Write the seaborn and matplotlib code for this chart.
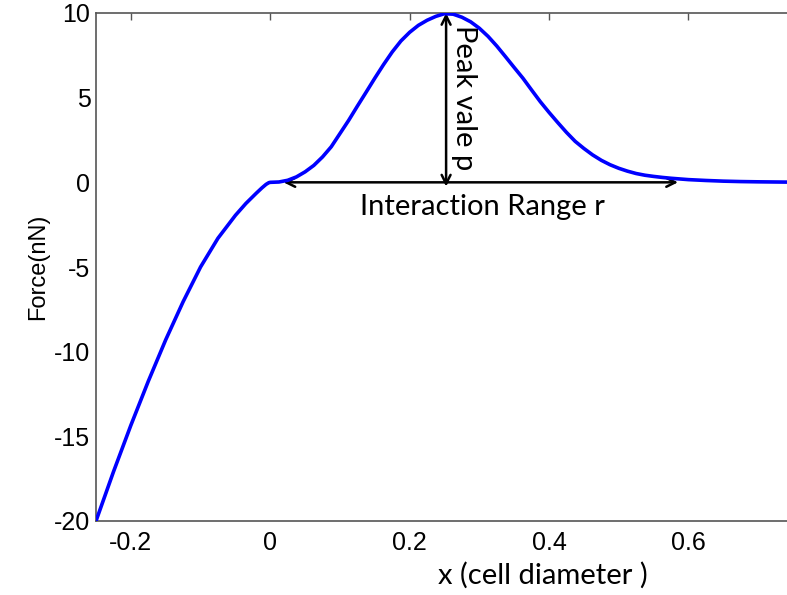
import matplotlib
matplotlib.use("Agg")
import matplotlib.pyplot as plt
import seaborn as sns
import pandas as pd

# ---- data ----
x_neg = [-0.25, -0.225, -0.2, -0.175, -0.15, -0.125, -0.1, -0.075, -0.05, -0.035,
         -0.02, -0.012, -0.006, -0.002]
force_neg = [-20.0, -17.1, -14.35, -11.75, -9.3, -7.05, -5.0, -3.3, -1.95, -1.25,
             -0.64, -0.33, -0.12, -0.02]

x_pos = [0.0, 0.0125, 0.025, 0.0375, 0.05, 0.0625, 0.075, 0.0875, 0.1, 0.1125,
         0.125, 0.1375, 0.15, 0.1625, 0.175, 0.1875, 0.2, 0.2125, 0.225, 0.2375,
         0.25, 0.2625, 0.275, 0.2875, 0.3, 0.3125, 0.325, 0.3375, 0.35, 0.3625,
         0.375, 0.3875, 0.4, 0.4125, 0.425, 0.4375, 0.45, 0.4625, 0.475, 0.4875,
         0.5, 0.5125, 0.525, 0.5375, 0.55, 0.5625, 0.575, 0.5875, 0.6, 0.625,
         0.65, 0.675, 0.7, 0.725, 0.75]
force_pos = [0.0, 0.02, 0.12, 0.32, 0.62, 1.0, 1.5, 2.1, 2.88, 3.66,
             4.5, 5.32, 6.15, 6.95, 7.7, 8.35, 8.86, 9.27, 9.57, 9.8,
             9.96, 9.93, 9.75, 9.48, 9.1, 8.62, 8.05, 7.42, 6.78, 6.15,
             5.45, 4.76, 4.13, 3.53, 2.95, 2.42, 2.0, 1.62, 1.3, 1.04,
             0.83, 0.66, 0.52, 0.42, 0.35, 0.29, 0.24, 0.2, 0.16, 0.11,
             0.07, 0.045, 0.03, 0.02, 0.01]

x_ticks = [-0.2, 0.0, 0.2, 0.4, 0.6]
x_tick_labels = ["-0.2", "0", "0.2", "0.4", "0.6"]
y_ticks = [-20, -15, -10, -5, 0, 5, 10]
y_tick_labels = ["-20", "-15", "-10", "-5", "0", "5", "10"]

peak_x = 0.2523
peak_value = 10.0
range_start = 0.019
range_end = 0.585

df = pd.DataFrame({"x": x_neg + x_pos, "force": force_neg + force_pos})

sns.set_style("white")
plt.rcParams["font.family"] = ["Liberation Sans", "DejaVu Sans"]

fig = plt.figure(figsize=(7.87, 5.95), dpi=100)
ax = fig.add_axes([96 / 787, 1 - 521 / 595, (793 - 96) / 787, (521 - 13) / 595])

sns.lineplot(data=df, x="x", y="force", ax=ax, color="#0000ff", linewidth=2.6,
             zorder=5)

ax.set_xlim(-0.25, 0.75)
ax.set_ylim(-20, 10)
ax.set_xticks(x_ticks)
ax.set_xticklabels(x_tick_labels)
ax.set_yticks(y_ticks)
ax.set_yticklabels(y_tick_labels)
ax.set_xlabel("")
ax.set_ylabel("Force(nN)", fontsize=17, labelpad=4, color="black")

for s in ax.spines.values():
    s.set_color("#555555")
    s.set_linewidth(1.2)
    s.set_visible(True)

ax.tick_params(axis="both", direction="in", length=5, width=1.0, color="#555555",
               top=True, right=False, labelsize=18, labelcolor="black")
ax.tick_params(axis="x", pad=7)
ax.tick_params(axis="y", pad=4)

arrow_props = dict(arrowstyle="<->", color="black", lw=1.8, mutation_scale=16,
                   shrinkA=0, shrinkB=0)
ax.annotate("", xy=(range_start, 0), xytext=(range_end, 0), arrowprops=arrow_props,
            zorder=3)
ax.annotate("", xy=(peak_x, peak_value), xytext=(peak_x, -0.25),
            arrowprops=arrow_props, zorder=3)

ax.text(0.2595, 9.3, "Peak vale p", rotation=-90, ha="left", va="top",
        fontsize=21, family=["Lato", "DejaVu Sans"], color="black")
ax.text(0.305, -0.7, "Interaction Range r", ha="center", va="top",
        fontsize=21, family=["Lato", "DejaVu Sans"], color="black")
fig.text(543 / 787, 1 - 575 / 595, "x (cell diameter )", ha="center", va="center",
         fontsize=21, family=["Lato", "DejaVu Sans"], color="black")

fig.savefig("out.png", dpi=100)
